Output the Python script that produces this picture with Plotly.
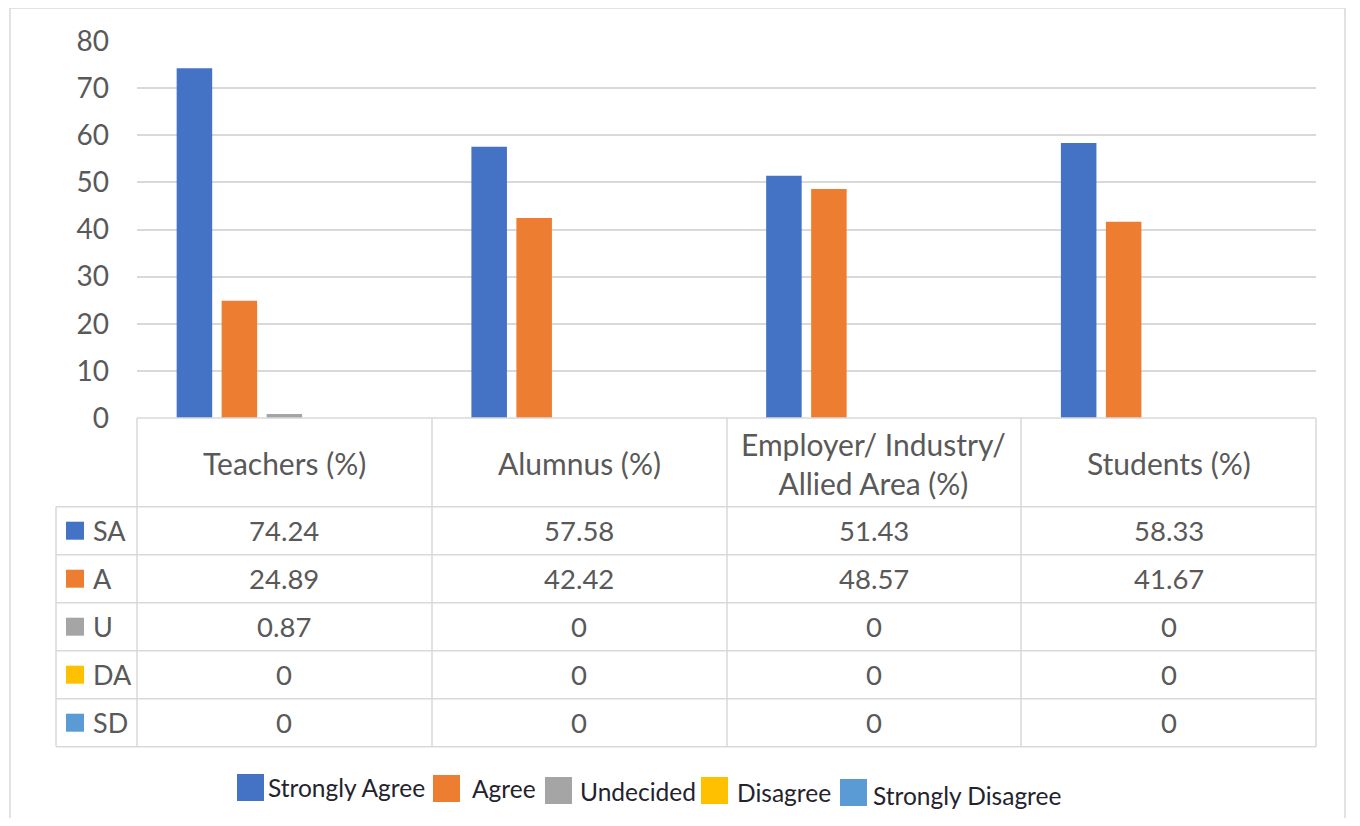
import plotly.graph_objects as go

# ---- data ----
categories = ["Teachers (%)", "Alumnus (%)", "Employer/ Industry/<br>Allied Area (%)", "Students (%)"]
series_short = ["SA", "A", "U", "DA", "SD"]
series_long = ["Strongly Agree", "Agree", "Undecided", "Disagree", "Strongly Disagree"]
sa = [74.24, 57.58, 51.43, 58.33]
a = [24.89, 42.42, 48.57, 41.67]
u = [0.87, 0, 0, 0]
da = [0, 0, 0, 0]
sd = [0, 0, 0, 0]
values = [sa, a, u, da, sd]
colors = ["#4472C4", "#ED7D31", "#A5A5A5", "#FFC000", "#5B9BD5"]
y_ticks = [0, 10, 20, 30, 40, 50, 60, 70, 80]

OX, OY = 8, 8  # page (body) margin
W, H = 1360 - 2 * OX, 826 - 2 * OY


def px(x):
    return (x - OX) / W


def py(y):
    return 1 - (y - OY) / H


FONT = "Lato"
TXT = "#595959"
GRID = "#D9D9D9"

fig = go.Figure()
for name, vals, col in zip(series_long, values, colors):
    fig.add_trace(go.Bar(x=categories, y=vals, name=name, marker=dict(color=col, line=dict(width=0)),
                         showlegend=False))

fig.update_layout(
    width=W, height=H, autosize=False,
    margin=dict(l=0, r=0, t=0, b=0, pad=0, autoexpand=False),
    paper_bgcolor="white", plot_bgcolor="white",
    barmode="group", bargap=0.237, bargroupgap=0.21,
    font=dict(family=FONT, color=TXT),
    xaxis=dict(domain=[px(137), px(1316)], showticklabels=False, showgrid=False, zeroline=False,
               showline=False, range=[-0.5, 3.5], fixedrange=True, automargin=False),
    yaxis=dict(domain=[py(418), py(41)], range=[0, 80], tickvals=y_ticks, showgrid=True,
               gridcolor=GRID, gridwidth=1.5, zeroline=False, showline=False,
               tickfont=dict(family=FONT, size=28, color=TXT), ticks="", ticklabelstandoff=27,
               fixedrange=True, automargin=False),
)

shapes = []
line = dict(color=GRID, width=1.5)
# outer chart border
shapes.append(dict(type="line", xref="paper", yref="paper", x0=px(10), x1=px(10), y0=py(8), y1=py(840), line=line))
shapes.append(dict(type="line", xref="paper", yref="paper", x0=px(10), x1=px(1345), y0=py(8), y1=py(8), line=line))
shapes.append(dict(type="line", xref="paper", yref="paper", x0=px(1345), x1=px(1345), y0=py(8), y1=py(840), line=line))

# data table lines
header_top, header_bot = 418, 506.7
row_h = 48
rows_y = [header_bot + i * row_h for i in range(len(series_short) + 1)]
col_x = [137, 432, 727, 1021, 1316]
shapes.append(dict(type="line", xref="paper", yref="paper", x0=px(137), x1=px(1316), y0=py(header_top), y1=py(header_top), line=line))
for yy in rows_y:
    shapes.append(dict(type="line", xref="paper", yref="paper", x0=px(56), x1=px(1316), y0=py(yy), y1=py(yy), line=line))
for xx in col_x:
    shapes.append(dict(type="line", xref="paper", yref="paper", x0=px(xx), x1=px(xx), y0=py(header_top), y1=py(rows_y[-1]), line=line))
shapes.append(dict(type="line", xref="paper", yref="paper", x0=px(56), x1=px(56), y0=py(header_bot), y1=py(rows_y[-1]), line=line))

annotations = []
# header
for cat in categories:
    annotations.append(dict(x=cat, xref="x", y=py((header_top + header_bot) / 2 + 1), yref="paper",
                            text=cat, showarrow=False, xanchor="center", yanchor="middle",
                            font=dict(family=FONT, size=30, color=TXT)))
# rows
for i, (short, vals, col) in enumerate(zip(series_short, values, colors)):
    yc = rows_y[i] + row_h / 2
    shapes.append(dict(type="rect", xref="paper", yref="paper", x0=px(66), x1=px(84), y0=py(yc - 9), y1=py(yc + 9),
                       fillcolor=col, line=dict(width=0)))
    annotations.append(dict(x=px(91), xref="paper", y=py(yc), yref="paper", text=short, showarrow=False,
                            xanchor="left", yanchor="middle", font=dict(family=FONT, size=27, color=TXT)))
    for cat, v in zip(categories, vals):
        annotations.append(dict(x=cat, xref="x", y=py(yc), yref="paper", text=f"{v:g}", showarrow=False,
                                xanchor="center", yanchor="middle", font=dict(family=FONT, size=27.5, color=TXT)))

# bottom legend (custom, slightly slanted like the reference image)
leg_sq = [(237, 774), (433, 775), (545, 777), (701, 777), (840, 779)]
leg_tx = [(266, 787), (470, 788), (578, 791), (735, 792), (871, 795)]
for (sx, sy), (tx, ty), name, col in zip(leg_sq, leg_tx, series_long, colors):
    shapes.append(dict(type="rect", xref="paper", yref="paper", x0=px(sx), x1=px(sx + 27), y0=py(sy), y1=py(sy + 27),
                       fillcolor=col, line=dict(width=0)))
    annotations.append(dict(x=px(tx), xref="paper", y=py(ty), yref="paper", text=name, showarrow=False,
                            xanchor="left", yanchor="middle", font=dict(family=FONT, size=24.5, color="#23232e")))

fig.update_layout(shapes=shapes, annotations=annotations)
fig.write_html("out.html", config={"displayModeBar": False})
